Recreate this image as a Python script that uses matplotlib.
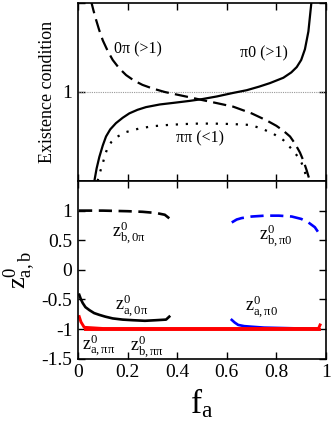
import matplotlib
matplotlib.use("Agg")
import matplotlib.pyplot as plt

plt.rcParams['font.family'] = ['Liberation Serif', 'DejaVu Serif']
plt.rcParams['mathtext.fontset'] = 'custom'
plt.rcParams['mathtext.rm'] = 'Liberation Serif'
plt.rcParams['mathtext.it'] = 'Liberation Serif:italic'
plt.rcParams['mathtext.bf'] = 'Liberation Serif:bold'

# ---- top panel: existence conditions ----
f_0pi = [0.052, 0.062, 0.073, 0.085, 0.10, 0.12, 0.14, 0.165, 0.194, 0.225, 0.26, 0.30, 0.35,
         0.40, 0.458, 0.50, 0.56, 0.626, 0.70, 0.761, 0.80, 0.83, 0.855, 0.875, 0.895, 0.91, 0.922, 0.935]
v_0pi = [2.03, 1.92, 1.81, 1.70, 1.58, 1.46, 1.36, 1.27, 1.19, 1.13, 1.08, 1.04, 1.00,
         0.97, 0.936, 0.91, 0.875, 0.835, 0.76, 0.68, 0.62, 0.56, 0.50, 0.42, 0.32, 0.22, 0.12, 0.0]

f_pi0 = [0.066, 0.075, 0.086, 0.10, 0.113, 0.13, 0.153, 0.18, 0.207, 0.24, 0.274, 0.33, 0.391,
         0.45, 0.50, 0.56, 0.626, 0.68, 0.73, 0.774, 0.828, 0.86, 0.882, 0.90, 0.915, 0.929, 0.942]
v_pi0 = [0.0, 0.14, 0.27, 0.40, 0.50, 0.58, 0.65, 0.71, 0.76, 0.80, 0.83, 0.86, 0.88,
         0.90, 0.92, 0.95, 0.99, 1.02, 1.06, 1.10, 1.16, 1.22, 1.28, 1.36, 1.48, 1.68, 2.03]

f_pipi = [0.079, 0.09, 0.10, 0.11, 0.12, 0.135, 0.153, 0.194, 0.247, 0.30, 0.364, 0.43, 0.485,
          0.546, 0.62, 0.694, 0.74, 0.788, 0.828, 0.868, 0.89, 0.902, 0.915, 0.925]
v_pipi = [0.0, 0.11, 0.20, 0.30, 0.38, 0.44, 0.49, 0.55, 0.59, 0.615, 0.63, 0.64, 0.645,
          0.645, 0.64, 0.63, 0.59, 0.53, 0.46, 0.34, 0.26, 0.20, 0.10, 0.0]

# ---- bottom panel: fixed points ----
f_zb0pi = [0.004, 0.10, 0.20, 0.26, 0.315, 0.35, 0.368]
z_zb0pi = [1.0, 1.0, 0.99, 0.98, 0.96, 0.93, 0.87]

f_za0pi = [0.005, 0.012, 0.019, 0.03, 0.046, 0.065, 0.086, 0.11, 0.14, 0.18, 0.22, 0.27, 0.315, 0.355, 0.368]
z_za0pi = [-0.42, -0.50, -0.56, -0.63, -0.68, -0.73, -0.76, -0.79, -0.82, -0.84, -0.85, -0.86, -0.85, -0.84, -0.79]

f_zbpi0 = [0.62, 0.64, 0.66, 0.70, 0.754, 0.81, 0.862, 0.90, 0.929, 0.955, 0.976]
z_zbpi0 = [0.80, 0.85, 0.874, 0.90, 0.915, 0.915, 0.90, 0.86, 0.80, 0.72, 0.59]

f_zapi0 = [0.62, 0.632, 0.646, 0.67, 0.70, 0.75, 0.80, 0.90, 0.97]
z_zapi0 = [-0.845, -0.89, -0.93, -0.95, -0.96, -0.975, -0.98, -0.99, -1.0]

f_zapipi = [0.005, 0.012, 0.025, 0.10, 0.50, 0.90, 0.97, 0.976]
z_zapipi = [-0.79, -0.88, -0.97, -0.99, -0.99, -0.99, -0.99, -0.93]

f_zbpipi = [0.03, 0.50, 0.97]
z_zbpipi = [-1.0, -1.0, -1.0]

xticks = [0, 0.2, 0.4, 0.6, 0.8, 1.0]
xticklabels = ['0', '0.2', '0.4', '0.6', '0.8', '1']
yticks_b = [-1.5, -1, -0.5, 0, 0.5, 1]
yticklabels_b = ['-1.5', '-1', '-0.5', '0', '0.5', '1']

fig = plt.figure(figsize=(3.32, 4.22), dpi=100)
ax1 = fig.add_axes([78/332, (422-181)/422, 248/332, 178/422])
ax2 = fig.add_axes([78/332, (422-358.7)/422, 248/332, 177.7/422])

lw = 1.6
ax1.axhline(1.0, color='#999999', lw=0.8, ls=(0, (1, 1)))
ax1.plot(f_0pi, v_0pi, color='black', lw=lw, ls=(0, (6, 2.8)))
ax1.plot(f_pi0, v_pi0, color='black', lw=lw)
ax1.plot(f_pipi, v_pipi, color='black', lw=lw, ls=(0, (1, 3.5)))
ax1.set_xlim(0, 1)
ax1.set_ylim(0, 2)
ax1.set_xticks(xticks)
ax1.set_xticklabels([])
ax1.set_yticks([0, 1, 2])
ax1.set_yticklabels(['', '1', ''])
ax1.text(0.24, 1.48, '0π (>1)', ha='center', va='center', fontsize=11.5)
ax1.text(0.749, 1.43, 'π0 (>1)', ha='center', va='center', fontsize=11.5)
ax1.text(0.49, 0.48, 'ππ (<1)', ha='center', va='center', fontsize=11.5)
ax1.set_ylabel('Existence condition', fontsize=13, va='center')
ax1.yaxis.set_label_coords(-0.121, 0.5)

ax2.plot(f_zb0pi, z_zb0pi, color='black', lw=lw + 0.3, ls=(0, (5, 2.5)))
ax2.plot(f_za0pi, z_za0pi, color='black', lw=lw + 0.3)
ax2.plot(f_zbpi0, z_zbpi0, color='#0000ff', lw=lw + 0.3, ls=(0, (5, 2.5)))
ax2.plot(f_zapi0, z_zapi0, color='#0000ff', lw=lw + 0.3)
ax2.plot(f_zbpipi, z_zbpipi, color='#ff0000', lw=lw + 0.5)
ax2.plot(f_zapipi, z_zapipi, color='#ff0000', lw=lw + 0.5)
ax2.set_xlim(0, 1)
ax2.set_ylim(-1.5, 1.5)
ax2.set_xticks(xticks)
ax2.set_xticklabels(xticklabels)
ax2.set_yticks(yticks_b)
ax2.set_yticklabels(yticklabels_b)

lab = dict(fontsize=13, ha='left', va='center')
ax2.text(0.136, 0.63, r'$\mathrm{z^{0}_{b,0π}}$', **lab)
ax2.text(0.731, 0.58, r'$\mathrm{z^{0}_{b,π0}}$', **lab)
ax2.text(0.149, -0.61, r'$\mathrm{z^{0}_{a,0π}}$', **lab)
ax2.text(0.673, -0.62, r'$\mathrm{z^{0}_{a,π0}}$', **lab)
ax2.text(0.015, -1.29, r'$\mathrm{z^{0}_{a,ππ}}$', **lab)
ax2.text(0.21, -1.29, r'$\mathrm{z^{0}_{b,ππ}}$', **lab)

ax2.set_ylabel(r'$\mathrm{z^{0}_{a,b}}$', fontsize=19, va='center')
ax2.yaxis.set_label_coords(-0.234, 0.5)
ax2.set_xlabel(r'$\mathrm{f_{a}}$', fontsize=24, va='center')
ax2.xaxis.set_label_coords(0.5, -0.25)

for ax in (ax1, ax2):
    ax.tick_params(direction='in', top=True, right=True, length=5, width=1,
                   labelsize=14, pad=4)
    for s in ax.spines.values():
        s.set_linewidth(1.2)

fig.savefig('out.png', dpi=100)
